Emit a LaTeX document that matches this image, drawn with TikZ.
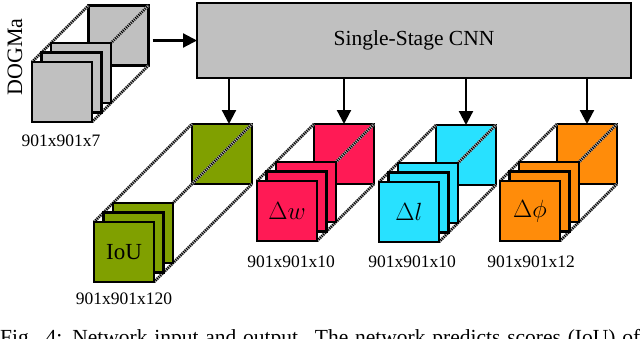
\documentclass[tikz,border=0pt]{standalone}
\usepackage{fontspec}
\setmainfont{Liberation Serif}
\usetikzlibrary{arrows.meta,calc}
\definecolor{cgray}{RGB}{192,192,192}
\definecolor{cgreen}{RGB}{128,160,0}
\definecolor{cpink}{RGB}{255,26,85}
\definecolor{ccyan}{RGB}{40,225,255}
\definecolor{corange}{RGB}{255,140,10}
\newcommand\fsz[1]{\fontsize{#1}{#1}\selectfont}
\pgfdeclarelayer{bg}
\pgfdeclarelayer{mid}
\pgfsetlayers{bg,mid,main}
\newcommand\featblock[6]{%
  % #1 name, #2 front x, #3 front y, #4 depth, #5 colour, #6 text
  \node[sq, fill=#5] (#1sc) at (#2+19,#3-19) {};
  \node[sq, fill=#5] (#1sb) at (#2+9.5,#3-9.5) {};
  \node[sq, fill=#5, font=\fsz{23}] (#1sa) at (#2,#3) {#6};
  \begin{pgfonlayer}{bg}
    \node[sq, fill=#5] (#1back) at (#2+#4,#3-#4) {};
  \end{pgfonlayer}
  \begin{pgfonlayer}{mid}
    \foreach \a in {north west, north east, south east}{%
      \draw[edgeline] (#1sa.\a) -- (#1back.\a);
      \draw[edgedots] (#1sa.\a) -- (#1back.\a);}
  \end{pgfonlayer}
}
\begin{document}
\begin{tikzpicture}[x=1pt,y=-1pt,
  sq/.style={draw, line width=2.9pt, minimum size=60pt, inner sep=0pt, outer sep=0pt, anchor=north west},
  edgeline/.style={line width=2.8pt, black!30},
  edgedots/.style={line width=2.8pt, black, dash pattern=on 1pt off 1.2pt},
  arr/.style={line width=2.2pt, -{Triangle[length=14pt,width=14pt]}},
  dimlabel/.style={font=\fsz{17.5}, inner sep=0pt},
  cnnbox/.style={draw, line width=2.6pt, fill=cgray, minimum width=434pt, minimum height=75pt, inner sep=0pt, outer sep=0pt, font=\fsz{21.5}},
]
\useasboundingbox (0,0) rectangle (640,338);
\clip (0,0) rectangle (640,338);

\node[cnnbox] (cnn) at (414,40.5) {Single-Stage CNN};

\featblock{dog}{32}{62}{56.5}{cgray}{}
\featblock{iou}{94}{222}{98}{cgreen}{IoU}
\featblock{dw}{257}{181}{57}{cpink}{\fsz{26}$\Delta w$}
\featblock{dl}{379}{182}{57}{ccyan}{\fsz{26}$\Delta l$}
\featblock{dp}{500}{181}{57}{corange}{\fsz{26}$\Delta\phi$}

\node[rotate=90, font=\fsz{22}, inner sep=0pt] (dogmatext) at (15,57) {DOGMa};

\node[dimlabel] (doglab) at (61,141) {901x901x7};
\node[dimlabel] (ioulab) at (124,299) {901x901x120};
\node[dimlabel] (dwlab) at (291,262) {901x901x10};
\node[dimlabel] (dllab) at (412,262) {901x901x10};
\node[dimlabel] (dplab) at (531,262) {901x901x12};

\draw[arr] ([xshift=4pt]cnn.west -| dogback.east) -- (cnn.west);
\draw[arr] ([xshift=7pt]iouback.north |- cnn.south) -- ([xshift=7pt]iouback.north);
\draw[arr] (dwback.north |- cnn.south) -- (dwback.north);
\draw[arr] (dlback.north |- cnn.south) -- (dlback.north);
\draw[arr] (dpback.north |- cnn.south) -- (dpback.north);

\node[anchor=base west, inner sep=0pt, font=\fsz{21.5}] (caption) at (0,344)
  {\makebox[640pt][s]{Fig. 4: Network input and output. The network predicts scores (IoU) of}};
\end{tikzpicture}
\end{document}
